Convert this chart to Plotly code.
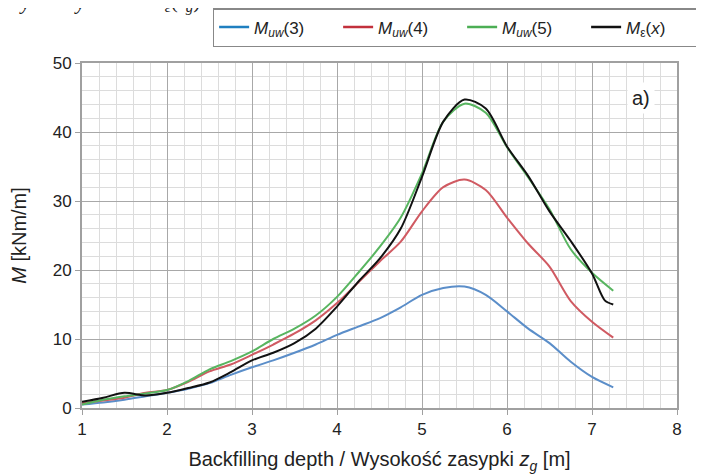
import plotly.graph_objects as go

depth = [1.0, 1.25, 1.5, 1.75, 2.0, 2.25, 2.5, 2.75, 3.0, 3.25, 3.5, 3.75, 4.0,
         4.25, 4.5, 4.75, 5.0, 5.25, 5.5, 5.75, 6.0, 6.25, 6.5, 6.75, 7.0, 7.25]

m_uw3 = [0.5, 0.8, 1.2, 1.7, 2.2, 2.8, 3.6, 4.8, 5.9, 6.9, 8.0, 9.2, 10.6,
         11.8, 13.0, 14.6, 16.4, 17.4, 17.6, 16.4, 14.0, 11.5, 9.4, 6.7, 4.5, 3.0]
m_uw4 = [0.7, 1.1, 1.5, 2.2, 2.6, 3.8, 5.3, 6.3, 7.7, 9.2, 10.8, 12.7, 15.2,
         18.2, 21.2, 24.1, 28.5, 32.0, 33.1, 31.6, 27.6, 23.8, 20.5, 15.5, 12.5, 10.2]
m_uw5 = [0.5, 1.2, 1.7, 2.1, 2.6, 3.9, 5.6, 6.8, 8.2, 10.0, 11.5, 13.4, 16.1,
         19.6, 23.3, 27.6, 34.0, 41.5, 44.1, 42.8, 37.8, 33.4, 28.8, 23.0, 19.6, 17.0]

depth_eps = [1.0, 1.25, 1.5, 1.75, 2.0, 2.25, 2.5, 2.75, 3.0, 3.25, 3.5, 3.75, 4.0,
             4.25, 4.5, 4.75, 5.0, 5.25, 5.5, 5.75, 6.0, 6.25, 6.5, 6.75, 7.0, 7.15, 7.25]
m_eps = [0.9, 1.5, 2.2, 1.8, 2.2, 2.9, 3.7, 5.2, 6.9, 8.0, 9.4, 11.5, 14.7,
         18.3, 21.6, 26.0, 33.5, 41.5, 44.7, 43.4, 37.9, 33.6, 28.5, 24.2, 19.5, 15.6, 15.0]

series = [
    ("<i>M</i><sub><i>uw</i></sub>(3)", depth, m_uw3, "#5b8ec9", "#1f7fc0"),
    ("<i>M</i><sub><i>uw</i></sub>(4)", depth, m_uw4, "#d05a62", "#c2303c"),
    ("<i>M</i><sub><i>uw</i></sub>(5)", depth, m_uw5, "#58b560", "#4cae54"),
    ("<i>M</i><sub>ε</sub>(<i>x</i>)", depth_eps, m_eps, "#111111", "#111111"),
]

fig = go.Figure()
for name, xs, ys, col, lcol in series:
    fig.add_trace(go.Scatter(x=xs, y=ys, mode="lines", name=name, showlegend=False,
                             line=dict(color=col, width=2, shape="spline", smoothing=0.8)))
# legend entries (legend swatches are drawn darker than the curves)
for name, xs, ys, col, lcol in series:
    fig.add_trace(go.Scatter(x=[None], y=[None], mode="lines", name=name,
                             line=dict(color=lcol, width=2.5)))

fig.update_layout(
    width=696, height=466,
    margin=dict(l=74, r=27, t=55, b=66, autoexpand=False),
    paper_bgcolor="white", plot_bgcolor="white",
    font=dict(family="Liberation Sans, Arial, sans-serif", size=17, color="#222"),
    showlegend=True,
    legend=dict(orientation="h", x=0.294, xref="container", xanchor="left",
                y=1.0, yref="container", yanchor="top",
                bordercolor="#888", borderwidth=1.5,
                bgcolor="white", font=dict(size=17), itemwidth=30,
                entrywidth=79, entrywidthmode="pixels", tracegroupgap=0),
)

fig.update_xaxes(range=[1, 8], dtick=1, tick0=1,
                 showgrid=True, gridcolor="#a8a8a8", gridwidth=1,
                 minor=dict(dtick=0.2, showgrid=True, gridcolor="#dcdcdc", gridwidth=1),
                 showline=True, linecolor="#a0a0a0", linewidth=2, mirror=True,
                 ticks="outside", ticklen=5, tickcolor="#a0a0a0",
                 zeroline=False,
                 title=dict(text="Backfilling depth / Wysokość zasypki <i>z</i><sub><i>g</i></sub> [m]",
                            font=dict(size=20), standoff=14))
fig.update_yaxes(range=[0, 50], dtick=10,
                 showgrid=True, gridcolor="#a8a8a8", gridwidth=1,
                 minor=dict(dtick=2, showgrid=True, gridcolor="#dcdcdc", gridwidth=1),
                 showline=True, linecolor="#a0a0a0", linewidth=2, mirror=True,
                 ticks="outside", ticklen=5, tickcolor="#a0a0a0",
                 zeroline=False,
                 title=dict(text="<i>M</i> [kNm/m]", font=dict(size=20), standoff=22))

fig.add_annotation(x=7.58, y=45.0, xref="x", yref="y", text="a)", showarrow=False,
                   font=dict(size=20, color="#222"), bgcolor="white", borderpad=4)

# partially clipped caption line above the chart
serif = dict(family="Liberation Serif, Times New Roman, serif", size=21, color="#222")
for xp, txt in [(-0.0958, "<i>y</i>"), (-0.0034, "<i>y</i>"),
                (0.105, "<i>M</i><sub>ε</sub>(<i>z</i><sub><i>g</i></sub>)")]:
    fig.add_annotation(x=xp, y=1.177, xref="paper", yref="paper", text=txt,
                       showarrow=False, xanchor="left" if "M" in txt else "center",
                       yanchor="middle", font=serif)

fig.write_html("out.html")
